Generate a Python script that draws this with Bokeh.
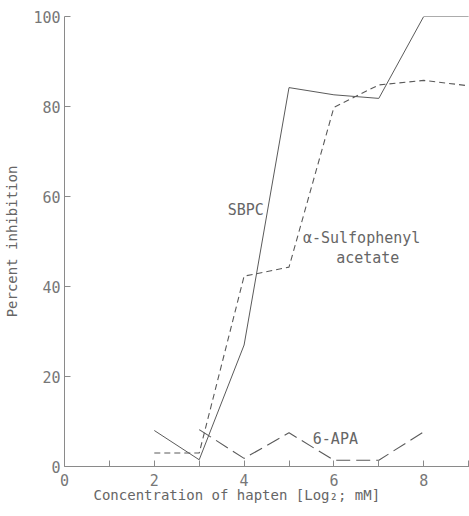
from bokeh.plotting import figure
from bokeh.models import FixedTicker, Range1d, Title
from bokeh.core.properties import value
from bokeh.embed import file_html
from bokeh.resources import INLINE

# data
sbpc_x = [2, 3, 4, 5, 6, 7, 8, 9]
sbpc_y = [8.0, 1.5, 27.0, 84.2, 82.6, 81.8, 100.0, 100.0]

sulfo_x = [2, 3, 4, 5, 6, 7, 8, 9]
sulfo_y = [3.0, 3.0, 42.3, 44.3, 79.8, 84.8, 85.8, 84.6]

apa_x = [3, 4, 5, 6, 7, 8]
apa_y = [8.2, 1.8, 7.5, 1.4, 1.4, 7.7]

x_ticks = [0, 1, 2, 3, 4, 5, 6, 7, 8, 9]
x_labels = {1: "", 3: "", 5: "", 7: "", 9: ""}
y_ticks = [0, 20, 40, 60, 80, 100]

label_texts = ["SBPC", "α-Sulfophenyl", "acetate", "6-APA"]
label_x = [4.44, 5.31, 6.05, 5.53]
label_y = [57.1, 50.7, 46.4, 6.2]
label_align = ["right", "left", "left", "left"]

FONT = "DejaVu Sans Mono"
INK = "#5a5a5a"

p = figure(width=469, height=516, output_backend="svg", toolbar_location=None,
           x_range=Range1d(0, 9.02), y_range=Range1d(0, 100),
           min_border_left=64, min_border_right=0, min_border_top=16, min_border_bottom=50)
p.outline_line_color = None
p.xgrid.grid_line_color = None
p.ygrid.grid_line_color = None
p.background_fill_color = "white"
p.border_fill_color = "white"

for ax in (p.xaxis[0], p.yaxis[0]):
    ax.axis_line_color = "#8a8a8a"
    ax.major_tick_line_color = "#8a8a8a"
    ax.minor_tick_line_color = None
    ax.major_tick_in = 6
    ax.major_tick_out = 0
    ax.major_label_text_font = FONT
    ax.major_label_text_font_size = "15px"
    ax.major_label_text_color = "#777777"
    ax.axis_label_text_font = FONT
    ax.axis_label_text_font_size = "14px"
    ax.axis_label_text_font_style = "normal"
    ax.axis_label_text_color = "#666666"

p.xaxis.ticker = FixedTicker(ticks=x_ticks)
p.xaxis.major_label_overrides = x_labels
p.xaxis.major_label_standoff = 7

p.yaxis.ticker = FixedTicker(ticks=y_ticks)
p.yaxis.major_label_standoff = 4
p.yaxis.axis_label = "Percent inhibition"
p.yaxis.axis_label_standoff = 10

xlabel = Title(text="Concentration of hapten [Log₂; mM]", align="left", offset=29,
               text_font=FONT, text_font_size="14px", text_font_style="normal",
               text_color="#666666", standoff=-7)
p.add_layout(xlabel, "below")

p.line(sbpc_x, sbpc_y, line_color=INK, line_width=1)
p.line(sulfo_x, sulfo_y, line_color=INK, line_width=1.1, line_dash="6 4")
p.line(apa_x, apa_y, line_color=INK, line_width=1.1, line_dash="14 6")

for t, x, y, a in zip(label_texts, label_x, label_y, label_align):
    p.text(x=[x], y=[y], text=[t], text_font=value(FONT), text_font_size="15px",
           text_color="#666666", text_align=a, text_baseline="middle")

open("out.html", "w").write(file_html(p, INLINE))
